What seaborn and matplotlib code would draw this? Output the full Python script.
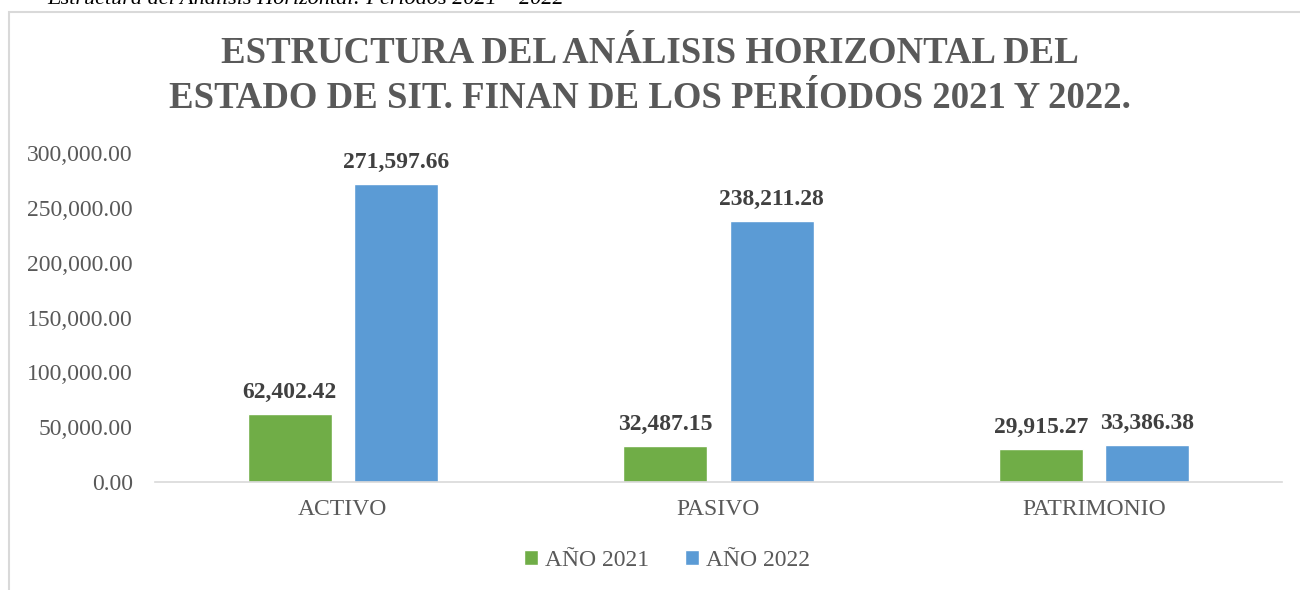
import matplotlib
matplotlib.use("Agg")
import matplotlib.pyplot as plt
import seaborn as sns
import pandas as pd
from matplotlib.patches import Rectangle

categories = ["ACTIVO", "PASIVO", "PATRIMONIO"]
series_names = ["AÑO 2021", "AÑO 2022"]
values_2021 = [62402.42, 32487.15, 29915.27]
values_2022 = [271597.66, 238211.28, 33386.38]
yticks = [0, 50000, 100000, 150000, 200000, 250000, 300000]
colors = ["#70AD47", "#5B9BD5"]

df = pd.DataFrame({
    "categoria": categories * 2,
    "serie": [series_names[0]] * 3 + [series_names[1]] * 3,
    "valor": values_2021 + values_2022,
})

sns.set_style("white")
plt.rcParams["font.family"] = ["Liberation Serif", "DejaVu Serif"]

fig = plt.figure(figsize=(13, 5.9), dpi=100)
ax = fig.add_axes([155 / 1300, 1 - 482 / 590, (1282 - 155) / 1300, (482 - 153) / 590])

sns.barplot(data=df, x="categoria", y="valor", hue="serie", palette=colors,
            width=0.567, gap=0.21, ax=ax, legend=True, saturation=1)

ax.set_ylim(0, 300000)
ax.set_yticks(yticks)
ax.set_yticklabels([f"{v:,.2f}" for v in yticks], fontsize=17, color="#595959")
ax.tick_params(axis="x", labelsize=17, colors="#595959", length=0, pad=12)
ax.tick_params(axis="y", length=0, pad=16)
ax.set_xlabel("")
ax.set_ylabel("")
for s in ["top", "right", "left"]:
    ax.spines[s].set_visible(False)
ax.spines["bottom"].set_color("#D9D9D9")
ax.spines["bottom"].set_linewidth(1.2)
ax.set_xlim(-0.5, 2.5)

for cont in ax.containers:
    ax.bar_label(cont, labels=[f"{v:,.2f}" for v in cont.datavalues],
                 fontsize=17, fontweight="bold", color="#404040", padding=8)

handles, labels = ax.get_legend_handles_labels()
ax.legend_.remove()
fig.legend(handles, labels, loc="center", bbox_to_anchor=(667 / 1300, 1 - 560 / 590),
           ncol=2, frameon=False, fontsize=17, handlelength=0.6, handleheight=0.6,
           handletextpad=0.3, columnspacing=1.5, labelcolor="#595959")

fig.text(0.5, 1 - 76 / 590,
         "ESTRUCTURA DEL ANÁLISIS HORIZONTAL DEL\nESTADO DE SIT. FINAN DE LOS PERÍODOS 2021 Y 2022.",
         ha="center", va="center", fontsize=26.5, fontweight="bold", color="#595959",
         linespacing=1.35)

fig.text(47 / 1300, 1 - 4 / 590, "Estructura del Análisis Horizontal: Períodos 2021 – 2022",
         ha="left", va="baseline", fontsize=16, style="italic", color="#000000")

fig.patches.append(Rectangle((9 / 1300, -0.1), 1.2, 1 - 12 / 590 + 0.1,
                             transform=fig.transFigure, fill=False,
                             edgecolor="#D9D9D9", linewidth=1.5))

fig.savefig("out.png", dpi=100)
